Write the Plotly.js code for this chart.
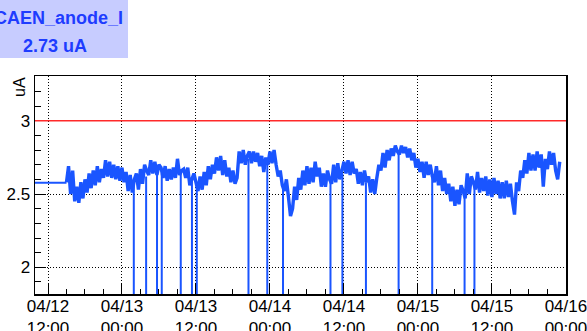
<!DOCTYPE html>
<html>
<head>
<meta charset="utf-8">
<script src="https://cdn.plot.ly/plotly-3.0.1.min.js"></script>
<style>html,body{margin:0;padding:0;background:#fff;}#chart{width:587px;height:331px;}</style>
</head>
<body>
<div id="chart"></div>
<script>
// ---- data ----
const seriesName = 'CAEN_anode_I';
const lastValueText = '2.73 uA';
const unitLabel = 'uA';
const alarmLevel = 3;

// flat segment before sampling starts
const leadTime = '2024-04-12 06:00:00';
const leadValue = 2.577;

// samples every 20 minutes, starting 04/12 15:00
const sampleStart = Date.UTC(2024, 3, 12, 15, 0, 0);
const sampleStepMinutes = 20;
const current_uA = [
  2.58, 2.69, 2.50,   // 04/12 15h
  2.66, 2.45, 2.55,
  2.44, 2.58, 2.47,
  2.60, 2.51, 2.64,
  2.54, 2.66, 2.56,
  2.69, 2.58, 2.67,
  2.61, 2.73, 2.62,
  2.72, 2.61, 2.70,
  2.60, 2.69, 2.59,
  2.68, 2.58, 2.65,   // 04/13 00h
  2.52, 2.63, 2.51,
  2.60, 2.64, 2.53,
  2.67, 2.57, 2.70,
  2.66, 2.63, 2.73,
  2.64, 2.72, 2.63,
  2.70, 2.68, 2.61,
  2.69, 2.59, 2.67,
  2.60, 2.68, 2.61,
  2.74, 2.63, 2.66,
  2.67, 2.61, 2.68,
  2.56, 2.60, 2.64,
  2.58, 2.52, 2.62,   // 04/13 12h
  2.53, 2.65, 2.56,
  2.69, 2.60, 2.70,
  2.64, 2.75, 2.66,
  2.76, 2.63, 2.73,
  2.62, 2.68, 2.58,
  2.66, 2.57, 2.61,
  2.79, 2.71, 2.80,
  2.70, 2.76, 2.79,
  2.71, 2.79, 2.72,
  2.78, 2.69, 2.76,
  2.65, 2.75, 2.70,
  2.79, 2.71, 2.80,   // 04/14 00h
  2.70, 2.62, 2.66,
  2.56, 2.52, 2.60,
  2.48, 2.35, 2.40,
  2.55, 2.46, 2.61,
  2.53, 2.66, 2.56,
  2.69, 2.57, 2.68,
  2.58, 2.72, 2.62,
  2.68, 2.55, 2.64,
  2.55, 2.66, 2.60,
  2.57, 2.70, 2.58,
  2.71, 2.60, 2.66,
  2.72, 2.64, 2.73,   // 04/14 12h
  2.63, 2.72, 2.64,
  2.67, 2.57, 2.65,
  2.56, 2.66, 2.58,
  2.62, 2.51, 2.60,
  2.50, 2.61, 2.70,
  2.66, 2.78, 2.68,
  2.80, 2.73, 2.81,
  2.76, 2.83, 2.79,
  2.77, 2.83, 2.78,
  2.82, 2.75, 2.81,
  2.73, 2.78, 2.68,
  2.74, 2.65, 2.72,   // 04/15 00h
  2.61, 2.72, 2.63,
  2.70, 2.62, 2.58,
  2.69, 2.56, 2.66,
  2.52, 2.61, 2.50,
  2.57, 2.45, 2.55,
  2.42, 2.53, 2.43,
  2.56, 2.52, 2.47,
  2.64, 2.50, 2.62,
  2.58, 2.53, 2.65,
  2.51, 2.61, 2.52,
  2.62, 2.49, 2.60,
  2.48, 2.61, 2.50,   // 04/15 12h
  2.59, 2.47, 2.58,
  2.47, 2.59, 2.48,
  2.57, 2.45, 2.36,
  2.58, 2.52, 2.66,
  2.61, 2.73, 2.64,
  2.78, 2.66, 2.77,
  2.66, 2.79, 2.68,
  2.77, 2.55, 2.74,
  2.67, 2.79, 2.70,
  2.78, 2.66, 2.60,
  2.72
];

// readout dropouts (value falls to 0)
const dropoutTimes = ['2024-04-13 01:55','2024-04-13 03:55','2024-04-13 05:41','2024-04-13 06:27',
                      '2024-04-13 09:32','2024-04-13 11:21','2024-04-13 12:08','2024-04-13 20:31',
                      '2024-04-13 23:34','2024-04-14 02:07','2024-04-14 09:49','2024-04-14 11:45',
                      '2024-04-14 15:34','2024-04-14 20:52','2024-04-15 02:19','2024-04-15 07:34',
                      '2024-04-15 09:10'];
const dropoutFrom  = [2.56, 2.62, 2.66, 2.64, 2.64, 2.60, 2.56, 2.74, 2.70, 2.56,
                      2.58, 2.64, 2.58, 2.78, 2.62, 2.50, 2.56];
const dropoutValue = 0;

const xTickVals = ['2024-04-12 12:00','2024-04-13 00:00','2024-04-13 12:00','2024-04-14 00:00',
                   '2024-04-14 12:00','2024-04-15 00:00','2024-04-15 12:00','2024-04-16 00:00'];
const xTickText = ['04/12<br>12:00','04/13<br>00:00','04/13<br>12:00','04/14<br>00:00',
                   '04/14<br>12:00','04/15<br>00:00','04/15<br>12:00','04/16<br>00:00'];
const yTickVals = [2, 2.5, 3];
const yTickText = ['2', '2.5', '3'];

// ---- build ----
function fmt(ms) { return new Date(ms).toISOString().slice(0, 19).replace('T', ' '); }
const xs = [], ys = [];
current_uA.forEach((v, i) => { xs.push(fmt(sampleStart + i * sampleStepMinutes * 60000)); ys.push(v); });

const dx = [], dy = [];
dropoutTimes.forEach((t, i) => { dx.push(t, t, null); dy.push(dropoutFrom[i], dropoutValue, null); });

// pixel layout helpers (paper coordinates)
const W = 587, H = 331, ML = 35, MR = 21, MT = 76, MB = 37;
const PW = W - ML - MR, PH = H - MT - MB;
const px = x => (x - ML) / PW;
const py = y => (H - MB - y) / PH;

const font = 'Liberation Sans, Arial, Helvetica, sans-serif';
const textBlue = '#1e3cff';
const lineBlue = '#1a55ff';

const traces = [
  {x: [leadTime, xs[0]], y: [leadValue, leadValue], type: 'scatter', mode: 'lines',
   line: {color: lineBlue, width: 2}, hoverinfo: 'skip'},
  {x: xs, y: ys, type: 'scatter', mode: 'lines',
   line: {color: lineBlue, width: 3.4, simplify: false}, hoverinfo: 'skip'},
  {x: dx, y: dy, type: 'scatter', mode: 'lines', connectgaps: false,
   line: {color: lineBlue, width: 2, simplify: false}, hoverinfo: 'skip'}
];

const gridDash = '1px,2px';

const layout = {
  width: W, height: H,
  margin: {l: ML, r: MR, t: MT, b: MB, pad: 0},
  paper_bgcolor: '#fff', plot_bgcolor: '#fff',
  showlegend: false,
  font: {family: font, size: 17, color: '#000'},
  xaxis: {
    type: 'date',
    range: ['2024-04-12 09:53:30', '2024-04-16 00:01:00'],
    tickmode: 'array', tickvals: xTickVals, ticktext: xTickText,
    ticks: 'inside', ticklen: 11, tickwidth: 1, tickcolor: '#000',
    showline: true, linecolor: '#000', linewidth: 1.5, mirror: true,
    showgrid: true, gridcolor: '#000', gridwidth: 1, griddash: gridDash,
    zeroline: false, ticklabelstandoff: -4, ticklabeloverflow: 'allow',
    tickfont: {family: font, size: 17, color: '#000'},
    minor: {tickmode: 'linear', tick0: '2024-04-12 12:00', dtick: 10800000,
            ticks: 'inside', ticklen: 5, tickcolor: '#000', showgrid: false}
  },
  yaxis: {
    range: [1.818, 3.305],
    tickmode: 'array', tickvals: yTickVals, ticktext: yTickText,
    ticks: 'inside', ticklen: 11, tickwidth: 1, tickcolor: '#000',
    showline: true, linecolor: '#000', linewidth: 1.5, mirror: true,
    showgrid: true, gridcolor: '#000', gridwidth: 1, griddash: gridDash,
    zeroline: false,
    tickfont: {family: font, size: 17, color: '#000'},
    minor: {tickmode: 'linear', tick0: 0, dtick: 0.1,
            ticks: 'inside', ticklen: 6, tickcolor: '#000', showgrid: false}
  },
  shapes: [
    {type: 'rect', xref: 'paper', yref: 'paper', x0: px(-2), x1: px(128), y0: py(58), y1: py(-2),
     fillcolor: 'rgb(199,204,255)', line: {width: 0}, layer: 'above'},
    {type: 'line', xref: 'paper', yref: 'y', x0: 0, x1: 1, y0: alarmLevel, y1: alarmLevel,
     line: {color: '#ff2a2a', width: 1.5}, layer: 'above'}
  ],
  annotations: [
    {xref: 'paper', yref: 'paper', x: px(58.5), y: py(18), xanchor: 'center', yanchor: 'middle',
     text: '<b>' + seriesName + '</b>', showarrow: false, font: {family: font, size: 18, color: textBlue}},
    {xref: 'paper', yref: 'paper', x: px(55), y: py(46), xanchor: 'center', yanchor: 'middle',
     text: '<b>' + lastValueText + '</b>', showarrow: false, font: {family: font, size: 18, color: textBlue}},
    {xref: 'paper', yref: 'paper', x: px(19), y: py(87), xanchor: 'center', yanchor: 'middle',
     text: unitLabel, textangle: -90, showarrow: false, font: {family: font, size: 16, color: '#000'}}
  ]
};

Plotly.newPlot('chart', traces, layout, {staticPlot: true, displayModeBar: false});
</script>
</body>
</html>
